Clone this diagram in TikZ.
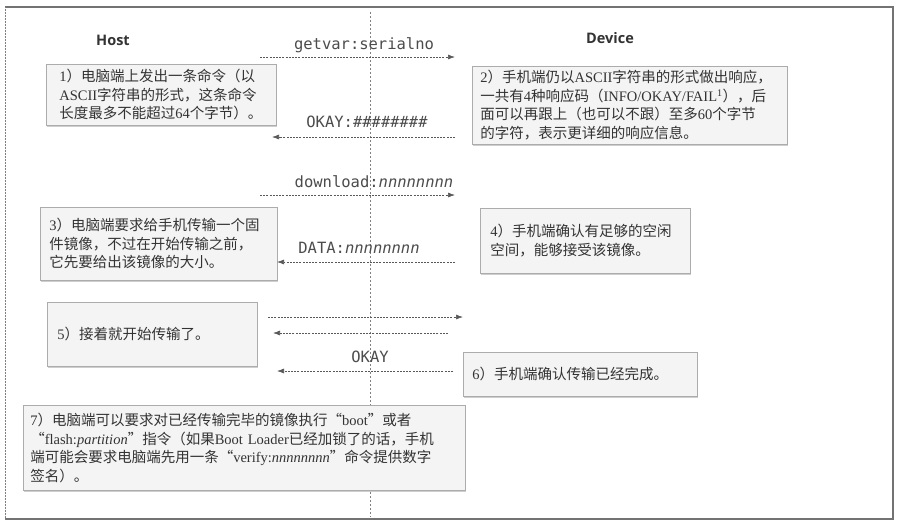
\documentclass[tikz,border=0pt]{standalone}
\usepackage{fontspec}
\setmainfont{Liberation Serif}
\newfontfamily\cjk{Noto Sans CJK SC}
\newfontfamily\headfont{Open Sans}
\newfontfamily\monofont{DejaVu Sans Mono}
\usetikzlibrary{arrows.meta,shadows}
\newcommand\lt[1]{{\rmfamily #1}}
\begin{document}
\begin{tikzpicture}[x=1pt,y=-1pt,
 box/.style={draw=gray!65, line width=0.6pt, fill=gray!9, text=black!80,
   font=\cjk\fontsize{14.5}{18.5}\selectfont, align=left, inner xsep=9pt, inner ysep=2pt,
   anchor=north west, drop shadow={shadow xshift=0.6pt, shadow yshift=-2pt, fill=gray!75}},
 msg/.style={draw=gray!70!black, dash pattern=on 2pt off 1.2pt, line width=0.7pt, -{Latex[length=7pt,width=5pt]}},
 lbl/.style={font=\monofont\fontsize{15.5}{18}\selectfont, text=gray!60!black, inner sep=0pt, anchor=base},
 head/.style={font=\headfont\bfseries\fontsize{14.5}{16}\selectfont, text=black!80}
]
\useasboundingbox[fill=white] (0,0) rectangle (899,525);
% frame
\draw[gray!90!black, line width=1.2pt] (5,7) -- (893,7) -- (893,519) -- (5,519);
\draw[gray, densely dotted, line width=0.5pt] (5,7) -- (5,519);
% lifeline
\coordinate (lt) at (370,12);
\coordinate (lb) at (370,517);
\draw[gray, line width=0.5pt, dash pattern=on 2pt off 2pt] (lt) -- (lb);
% heads
\node[head] (host) at (113,40) {Host};
\node[head] (dev) at (610,38) {Device};
% boxes
\node[box, inner xsep=13pt, text width=204pt, minimum height=61pt] (b1) at (46,64)
 {\lt{1}）电脑端上发出一条命令（以\\\lt{ASCII}字符串的形式，这条命令\\长度最多不能超过\lt{64}个字节）。};
\node[box, inner xsep=8pt, text width=299pt, minimum height=78pt] (b2) at (472,66)
 {\lt{2}）手机端仍以\lt{ASCII}字符串的形式做出响应，\\一共有\lt{4}种响应码（\lt{INFO/OKAY/FAIL\textsuperscript{1}}），后\\面可以再跟上（也可以不跟）至多\lt{60}个字节\\的字符，表示更详细的响应信息。};
\node[box, text width=219pt, minimum height=73pt] (b3) at (40,207)
 {\lt{3}）电脑端要求给手机传输一个固\\件镜像，不过在开始传输之前，\\它先要给出该镜像的大小。};
\node[box, inner xsep=10pt, text width=190pt, minimum height=65pt] (b4) at (480,208)
 {\lt{4}）手机端确认有足够的空闲\\空间，能够接受该镜像。};
\node[box, inner xsep=10pt, text width=190pt, minimum height=64pt] (b5) at (47,302)
 {\lt{5}）接着就开始传输了。};
\node[box, text width=216pt, minimum height=44pt] (b6) at (463,352)
 {\lt{6}）手机端确认传输已经完成。};
\node[box, inner xsep=7pt, text width=428pt, minimum height=85pt] (b7) at (23,405)
 {\lt{7}）电脑端可以要求对已经传输完毕的镜像执行“\lt{boot}”或者\\“\lt{flash:\textit{partition}}”指令（如果\lt{Boot Loader}已经加锁了的话，手机\\端可能会要求电脑端先用一条“\lt{verify:\textit{nnnnnnnn}}”命令提供数字\\签名）。};
% message end points
\coordinate (m1a) at (260,57);  \coordinate (m1b) at (455,57);
\coordinate (m2a) at (455,137); \coordinate (m2b) at (272,137);
\coordinate (m3a) at (260,195); \coordinate (m3b) at (455,195);
\coordinate (m4a) at (455,262); \coordinate (m4b) at (277,262);
\coordinate (m5a) at (268,317); \coordinate (m5b) at (463,317);
\coordinate (m6a) at (448,333); \coordinate (m6b) at (273,333);
\coordinate (m7a) at (453,371); \coordinate (m7b) at (277,371);
\draw[msg] (m1a) -- (m1b);
\draw[msg] (m2a) -- (m2b);
\draw[msg] (m3a) -- (m3b);
\draw[msg] (m4a) -- (m4b);
\draw[msg] (m5a) -- (m5b);
\draw[msg] (m6a) -- (m6b);
\draw[msg] (m7a) -- (m7b);
% labels
\node[lbl] (l1) at (364,49) {getvar:serialno};
\node[lbl] (l2) at (367,127) {OKAY:\textit{\#\#\#\#\#\#\#\#}};
\node[lbl] (l3) at (374,187) {download:\textit{nnnnnnnn}};
\node[lbl] (l4) at (359,253) {DATA:\textit{nnnnnnnn}};
\node[lbl] (l5) at (370,362) {OKAY};
\end{tikzpicture}
\end{document}
